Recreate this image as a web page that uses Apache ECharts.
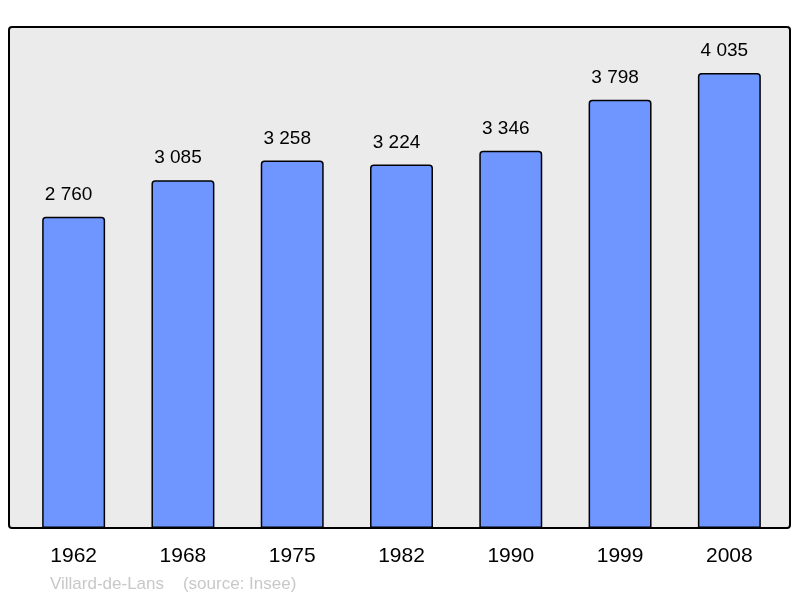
<!DOCTYPE html>
<html><head><meta charset="utf-8">
<script src="https://cdn.jsdelivr.net/npm/echarts@6/dist/echarts.min.js"></script>
<style>html,body{margin:0;padding:0;background:#fff}#c{width:800px;height:598px}</style>
</head><body><div id="c"></div>
<script>
var years = ['1962','1968','1975','1982','1990','1999','2008'];
var population = [2760, 3085, 3258, 3224, 3346, 3798, 4035];
var sourceText = 'Villard-de-Lans    (source: Insee)';

var FONT = '"Liberation Sans", Arial, sans-serif';
var chart = echarts.init(document.getElementById('c'), null, {renderer:'canvas'});
chart.setOption({
  animation: false,
  backgroundColor: '#ffffff',
  graphic: [
    {type:'rect', z:-10, shape:{x:9, y:27, width:781, height:501, r:3},
     style:{fill:'#ebebeb', stroke:'#000', lineWidth:2}},
    {type:'text', x:50, y:584, style:{text:sourceText, fill:'#c8c8c8', font:'17px ' + FONT, verticalAlign:'middle'}}
  ],
  grid: {left:19, right:16, top:27, bottom:70},
  xAxis: {
    type:'category', data: years,
    axisLine:{show:false}, axisTick:{show:false},
    axisLabel:{color:'#000', fontSize:21, fontFamily:FONT, margin:18}
  },
  yAxis: {
    type:'value', min:0, max:4443,
    axisLine:{show:false}, axisTick:{show:false}, axisLabel:{show:false}, splitLine:{show:false}
  },
  series: [{
    type:'bar', data: population, barWidth:'57.6%',
    itemStyle:{color:'#6f96ff', borderColor:'#000', borderWidth:1.5, borderRadius:[3,3,0,0]},
    label:{show:true, position:'top', distance:12.5, offset:[-5,0], color:'#000', fontSize:19,
      fontFamily:FONT,
      formatter:function(p){return String(p.value).replace(/\B(?=(\d{3})+(?!\d))/g,' ');}}
  }]
});
</script></body></html>
